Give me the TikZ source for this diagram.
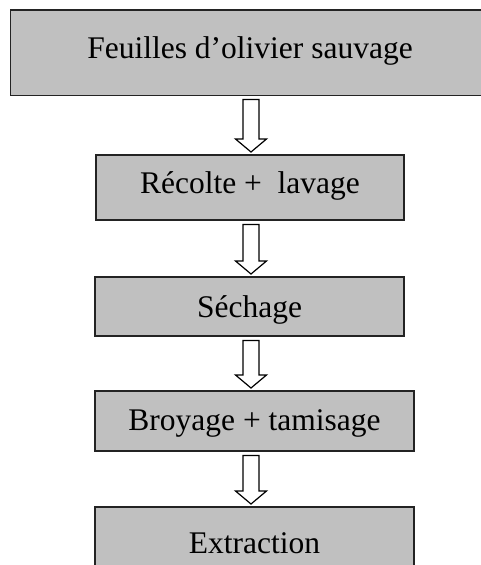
\documentclass[tikz,border=0pt]{standalone}
\usepackage{fontspec}
\setmainfont{Liberation Serif}
\usetikzlibrary{calc}
\definecolor{boxfill}{RGB}{192,192,192}
\definecolor{boxline}{RGB}{35,35,35}
\tikzset{
  stepbox/.style={draw=boxline, line width=1.5pt, fill=boxfill, inner sep=0pt,
    anchor=north, font=\fontsize{31.5}{37}\selectfont},
  boxedge/.style={draw=boxline, line width=1.5pt, line join=miter},
  blockarr/.style={draw=black, line width=1.2pt, fill=white, line join=miter}
}
\newcommand\flowarrow[2]{%
  \draw[blockarr] let \p1=(#1.south), \p2=(#2.north) in
    (243pt,\y1-4pt) -- (259pt,\y1-4pt) -- (259pt,\y2+15pt) -- (266.5pt,\y2+15pt)
    -- (251pt,\y2+2pt) -- (235.5pt,\y2+15pt) -- (243pt,\y2+15pt) -- cycle;}
\begin{document}
\begin{tikzpicture}[x=1pt,y=-1pt]
\useasboundingbox (0,0) rectangle (481,565);
\clip (0,0) rectangle (481,565);
\node[stepbox, draw=none, minimum width=478pt, text height=48pt, text depth=36pt] (b1) at (250,10) {Feuilles d’olivier sauvage};
\draw[boxedge] ([xshift=20pt]b1.north east) -- (b1.north west) -- (b1.south west) -- ([xshift=20pt]b1.south east);
\node[stepbox, minimum width=308pt, text height=39pt, text depth=26pt] (b2) at (250,154) {Récolte +\ \ lavage};
\node[stepbox, minimum width=309pt, text height=41pt, text depth=18pt] (b3) at (249.5,276) {Séchage};
\node[stepbox, minimum width=319pt, text height=40pt, text depth=20pt] (b4) at (254.5,390) {Broyage + tamisage};
\node[stepbox, minimum width=319pt, text height=47pt, text depth=25pt] (b5) at (254.5,506) {Extraction};
\flowarrow{b1}{b2}
\flowarrow{b2}{b3}
\flowarrow{b3}{b4}
\flowarrow{b4}{b5}
\end{tikzpicture}
\end{document}
